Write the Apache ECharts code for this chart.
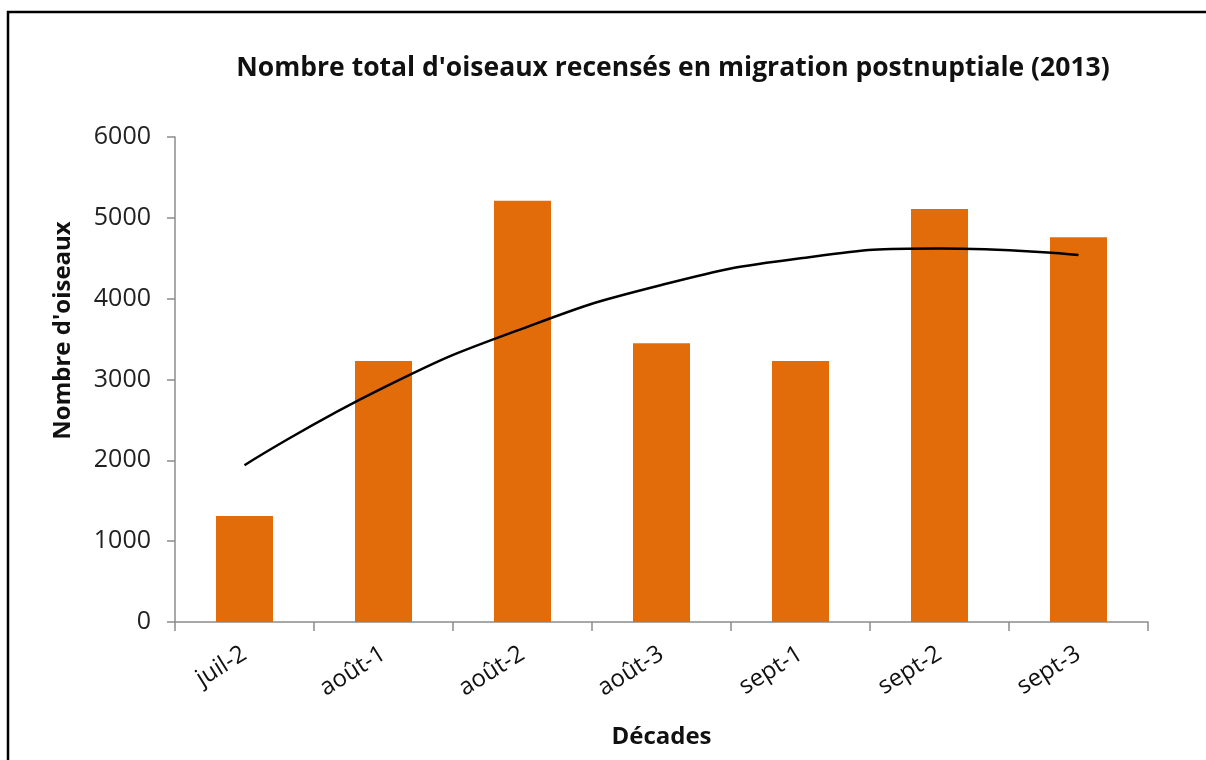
<!DOCTYPE html>
<html lang="fr">
<head>
    <meta charset="UTF-8">
    <title>Migration postnuptiale 2013</title>
    <script src="https://cdn.jsdelivr.net/npm/echarts@6/dist/echarts.min.js"></script>
    <style>
        html, body { margin: 0; padding: 0; background: #fff; }
        #container { width: 1206px; height: 760px; }
    </style>
</head>
<body>
<div id="container"></div>
<script>
    // données
    var decades = ['juil-2', 'août-1', 'août-2', 'août-3', 'sept-1', 'sept-2', 'sept-3'];
    var oiseaux = [1310, 3230, 5210, 3450, 3230, 5110, 4760];
    // courbe de tendance (polynomiale) lue au centre de chaque décade
    var tendance = [1940, 2900, 3630, 4170, 4500, 4620, 4540];
    var yTicks = [0, 1000, 2000, 3000, 4000, 5000, 6000];

    var font = '"Open Sans", sans-serif';
    var axisColor = '#8c8c8c';

    var myChart = echarts.init(document.getElementById('container'));
    var option = {
        animation: false,
        textStyle: { fontFamily: font },
        title: {
            text: "Nombre total d'oiseaux recensés en migration postnuptiale (2013)",
            left: 668,
            textAlign: 'center',
            top: 50,
            textStyle: { fontSize: 26.5, fontWeight: 'bold', color: '#111', fontFamily: font }
        },
        graphic: [{
            type: 'rect',
            shape: { x: 8, y: 12, width: 1400, height: 900 },
            style: { fill: null, stroke: '#000', lineWidth: 2.5 },
            silent: true
        }],
        grid: { left: 175, right: 58, top: 137, bottom: 138 },
        xAxis: {
            type: 'category',
            data: decades,
            name: 'Décades',
            nameLocation: 'middle',
            nameGap: 103,
            nameTextStyle: { fontSize: 24, fontWeight: 'bold', color: '#111' },
            axisLine: { lineStyle: { color: axisColor, width: 1.5 } },
            axisTick: { show: true, length: 9, lineStyle: { color: axisColor, width: 1.5 } },
            axisLabel: { rotate: 32, fontSize: 24, color: '#111', margin: 30 },
            splitLine: { show: false }
        },
        yAxis: {
            type: 'value',
            min: yTicks[0],
            max: yTicks[yTicks.length - 1],
            interval: 1000,
            name: "Nombre d'oiseaux",
            nameLocation: 'middle',
            nameGap: 100,
            nameTextStyle: { fontSize: 24, fontWeight: 'bold', color: '#111', padding: [0, 0, 0, 98] },
            axisLine: { show: true, lineStyle: { color: axisColor, width: 1.5 } },
            axisTick: { show: true, length: 8, lineStyle: { color: axisColor, width: 1.5 } },
            axisLabel: {
                fontSize: 25, color: '#222', margin: 24,
                formatter: function (v) { return String(v); }
            },
            splitLine: { show: false }
        },
        series: [
            {
                type: 'bar',
                data: oiseaux,
                barWidth: 57,
                itemStyle: { color: '#E36C0A' }
            },
            {
                type: 'line',
                data: tendance,
                smooth: true,
                symbol: 'none',
                lineStyle: { color: '#000', width: 2.5 },
                z: 5
            }
        ]
    };
    myChart.setOption(option, true);
</script>
</body>
</html>
